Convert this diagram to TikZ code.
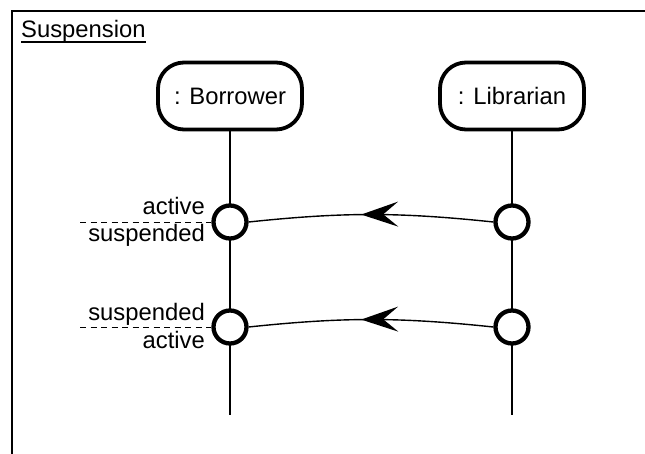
\documentclass[tikz,border=0pt]{standalone}
\usepackage{fontspec}
\setmainfont{Liberation Sans}
\usetikzlibrary{arrows.meta,decorations.markings}
\begin{document}
\begin{tikzpicture}[x=1pt,y=-1pt,
  every node/.style={font=\fontsize{23.8}{28}\selectfont},
  frame/.style={line width=2pt},
  lifebox/.style={draw,line width=3.8pt,rounded corners=26pt,minimum width=144pt,minimum height=67pt,inner sep=0pt},
  lifeline/.style={line width=1.4pt},
  statept/.style={draw,circle,fill=white,line width=4.3pt,minimum size=33pt,inner sep=0pt},
  msg/.style={line width=1.4pt,postaction={decorate},
    decoration={markings,mark=at position 0.54 with {\arrow{Stealth[length=37pt,width=25pt,inset=15pt]}}}},
  divider/.style={line width=0.9pt,dash pattern=on 6pt off 4.5pt},
  statelbl/.style={anchor=base east,inner sep=0pt}]
\useasboundingbox (0,0) rectangle (645,454);

% diagram frame with its title
\coordinate (frTR) at (645,11);
\coordinate (frC) at (11.5,11);
\coordinate (frBL) at (11.5,454);
\draw[frame] (frTR) -- (frC) -- (frBL);
\node[anchor=base west,inner sep=0pt] (title) at (21,38) {Suspension};
\draw[line width=1.4pt] ([yshift=-4pt]title.base west) -- ([yshift=-4pt]title.base east);

% lifelines
\node[lifebox] (bor) at (230,96) {: Borrower};
\node[lifebox] (lib) at (512,96) {: Librarian};
\coordinate (borEnd) at (230,415);
\coordinate (libEnd) at (512,415);
\draw[lifeline] (bor.south) -- (borEnd);
\draw[lifeline] (lib.south) -- (libEnd);

% state points on each lifeline
\node[statept] (b1) at (230,222) {};
\node[statept] (b2) at (230,327) {};
\node[statept] (l1) at (512,222) {};
\node[statept] (l2) at (512,327) {};

% messages
\draw[msg] (l1.west) to[bend right=6] (b1.east);
\draw[msg] (l2.west) to[bend right=6] (b2.east);

% state changes on the borrower
\coordinate (d1) at (80,222);
\coordinate (d2) at (80,327);
\draw[divider] (d1) -- (b1.west);
\draw[divider] (d2) -- (b2.west);
\node[statelbl] (s1a) at (205,215) {active};
\node[statelbl] (s1b) at (205,242) {suspended};
\node[statelbl] (s2a) at (205,320) {suspended};
\node[statelbl] (s2b) at (205,348) {active};
\end{tikzpicture}
\end{document}
